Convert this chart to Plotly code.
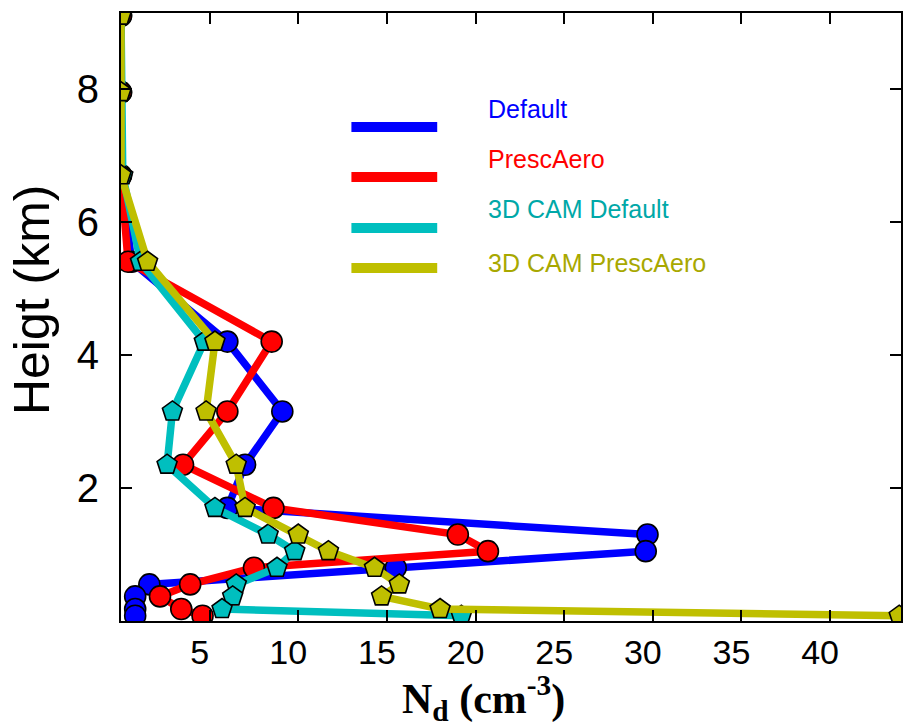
import plotly.graph_objects as go

# ---- data ----
heights = [9.1, 7.95, 6.7, 5.4, 4.2, 3.15, 2.35, 1.7, 1.3, 1.05, 0.8, 0.55, 0.37, 0.18, 0.08]
nd_default = [0, 0, 0, 0.6, 6.0, 9.1, 7.0, 6.0, 29.7, 29.6, 15.5, 1.6, 0.8, 0.8, 0.8]
nd_presc = [0, 0, 0, 0.4, 8.5, 6.0, 3.5, 8.6, 19.0, 20.7, 7.5, 3.9, 2.2, 3.4, 4.6]
nd_cam_default = [0, 0, 0.1, 1.1, 4.7, 2.9, 2.6, 5.3, 8.3, 9.8, 8.8, 6.5, 6.3, 5.7, 19.2]
nd_cam_presc = [0, 0, 0, 1.5, 5.3, 4.8, 6.5, 7.0, 10.0, 11.7, 14.3, 15.7, 14.7, 18.0, 43.9]

series_names = ["Default", "PrescAero", "3D CAM Default", "3D CAM PrescAero"]
series_values = [nd_default, nd_presc, nd_cam_default, nd_cam_presc]
line_colors = ["#0000ff", "#ff0000", "#00bfbf", "#bfbf00"]
text_colors = ["#0000ff", "#ff0000", "#00a8a8", "#a8a800"]
symbols = ["circle", "circle", "pentagon", "pentagon"]

x_ticks = [5, 10, 15, 20, 25, 30, 35, 40]
y_ticks = [2, 4, 6, 8]

fig = go.Figure()
for name, vals, col, sym in zip(series_names, series_values, line_colors, symbols):
    fig.add_trace(go.Scatter(
        x=vals, y=heights, mode="lines+markers", name=name,
        line=dict(color=col, width=7.5),
        marker=dict(symbol=sym, size=21, color=col, line=dict(color="black", width=1.6)),
        cliponaxis=True, showlegend=False,
    ))

# custom legend (lines below-left of the labels, as in the reference)
leg_line_y = [0.8125, 0.7303, 0.6464, 0.5806]
leg_text_y = [0.842, 0.760, 0.678, 0.588]
for name, col, tcol, ly, ty in zip(series_names, line_colors, text_colors, leg_line_y, leg_text_y):
    fig.add_shape(type="line", xref="paper", yref="paper",
                  x0=0.2954, x1=0.4054, y0=ly, y1=ly,
                  line=dict(color=col, width=10))
    fig.add_annotation(xref="paper", yref="paper", x=0.4685, y=ty,
                       xanchor="left", yanchor="middle", text=name, showarrow=False,
                       font=dict(family="Liberation Sans, Arial", size=25, color=tcol))

fig.add_annotation(xref="paper", yref="paper", x=0.465, y=-0.127, xanchor="center",
                   yanchor="middle", showarrow=False,
                   text="<b>N<sub>d</sub> (cm<sup>-3</sup>)</b>",
                   font=dict(family="Liberation Serif, Times New Roman", size=42, color="black"))
fig.add_annotation(xref="paper", yref="paper", x=-0.114, y=0.528, xanchor="center",
                   yanchor="middle", showarrow=False, textangle=-90,
                   text="Heigt (km)",
                   font=dict(family="Liberation Sans, Arial", size=50, color="black"))

fig.update_layout(
    width=904, height=726,
    margin=dict(l=121, r=1, t=13, b=105),
    paper_bgcolor="white", plot_bgcolor="white",
    xaxis=dict(range=[0, 44], tickvals=x_ticks, ticks="inside", ticklen=11, tickwidth=2,
               tickcolor="black", showline=True, linecolor="black", linewidth=2,
               mirror="ticks", showgrid=False, zeroline=False,
               ticklabelshift=-10, ticklabelstandoff=0,
               tickfont=dict(family="Liberation Sans Narrow, Arial Narrow, Liberation Sans",
                             size=34, color="black")),
    yaxis=dict(range=[0, 9.14], tickvals=y_ticks, ticks="inside", ticklen=11, tickwidth=2,
               tickcolor="black", showline=True, linecolor="black", linewidth=2,
               mirror="ticks", showgrid=False, zeroline=False, ticklabelstandoff=12,
               tickfont=dict(family="Liberation Sans, Arial", size=40, color="black")),
)

fig.write_html("out.html")
